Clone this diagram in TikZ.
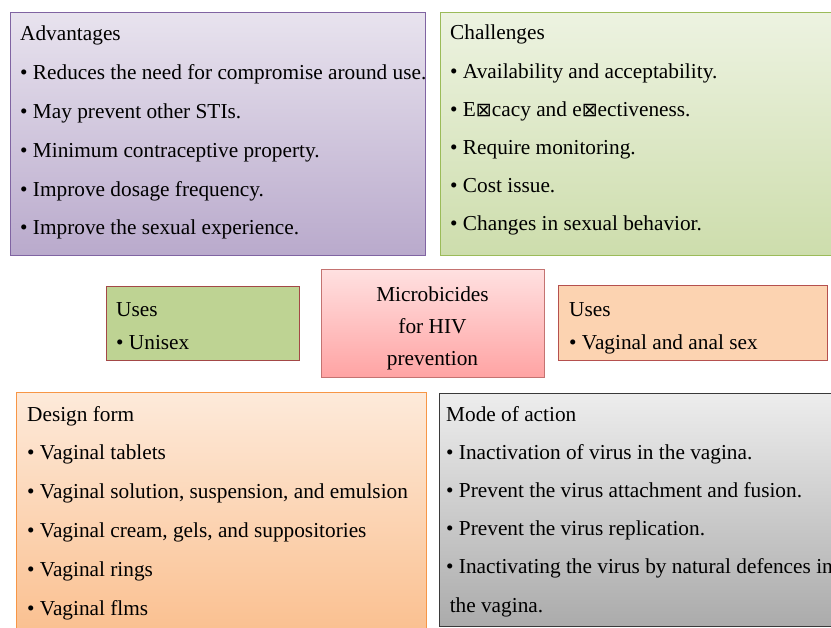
\documentclass[tikz,border=0pt]{standalone}
\usepackage{fontspec}
\setmainfont{Liberation Serif}
\newfontfamily\symfont{DejaVu Sans}
\usepackage{tikz}
\usetikzlibrary{positioning}
\definecolor{purpleline}{HTML}{8064A2}
\definecolor{greenline}{HTML}{9BBB59}
\definecolor{redline}{HTML}{B5504E}
\definecolor{orangeline}{HTML}{F79646}
\definecolor{grayline}{HTML}{3A3A3A}
\tikzset{x=1pt, y=1pt}
\tikzstyle{panel} = [rectangle, anchor=north west, inner sep=0, line width=1.2pt]
\tikzstyle{txt} = [draw=none, anchor=base west, inner sep=0, align=left, font=\fontsize{21.3}{38.8}\selectfont]
\newcommand{\nogl}{{\symfont\fontsize{19}{19}\selectfont\raisebox{0.3pt}{⊠}}}

\begin{document}
\begin{tikzpicture}
\useasboundingbox (0,0) rectangle (831,-628);
\clip (0,0) rectangle (831,-628);
% top row
\node [panel, draw=purpleline, top color=purpleline!18, bottom color=purpleline!55, minimum width=415, minimum height=243] (adv) at (10,-12) {};
\node [panel, draw=greenline, top color=greenline!18, bottom color=greenline!50, minimum width=400, minimum height=243] (chal) at (440,-12) {};
% middle row
\node [panel, draw=redline!90!black, fill=greenline!65, minimum width=193, minimum height=74] (usesL) at (106,-286) {};
\node [panel, draw=redline!80, top color=red!12, bottom color=red!36, minimum width=223, minimum height=108] (mic) at (321,-269) {};
\node [panel, draw=redline, fill=orangeline!42, minimum width=269, minimum height=75] (usesR) at (558,-285) {};
% bottom row
\node [panel, draw=orangeline, top color=orangeline!20, bottom color=orangeline!60, minimum width=410, minimum height=240] (des) at (16,-392) {};
\node [panel, draw=grayline, top color=black!7, bottom color=black!33, minimum width=400, minimum height=233] (mode) at (439,-393) {};

% texts (base = last line)
\node [txt] (advtxt) at (20,-235) {Advantages\\
  • Reduces the need for compromise around use.\\
  • May prevent other STIs.\\
  • Minimum contraceptive property.\\
  • Improve dosage frequency.\\
  • Improve the sexual experience.};
\node [txt, font=\fontsize{21.3}{38.2}\selectfont] (chaltxt) at (450,-231) {Challenges\\
  • Availability and acceptability.\\
  • E\nogl cacy and e\nogl ectiveness.\\
  • Require monitoring.\\
  • Cost issue.\\
  • Changes in sexual behavior.};
\node [txt, font=\fontsize{21.3}{33}\selectfont] (usesLtxt) at (116,-350) {Uses\\• Unisex};
\node [txt, anchor=base, align=center, font=\fontsize{21.3}{32}\selectfont] (mictxt) at (432.5,-366) {Microbicides\\for HIV\\prevention};
\node [txt, font=\fontsize{21.3}{33}\selectfont] (usesRtxt) at (569,-350) {Uses\\• Vaginal and anal sex};
\node [txt] (destxt) at (27,-615) {Design form\\
  • Vaginal tablets\\
  • Vaginal solution, suspension, and emulsion\\
  • Vaginal cream, gels, and suppositories\\
  • Vaginal rings\\
  • Vaginal flms};
\node [txt, font=\fontsize{21.3}{38.2}\selectfont] (modetxt) at (446,-612) {Mode of action\\
  • Inactivation of virus in the vagina.\\
  • Prevent the virus attachment and fusion.\\
  • Prevent the virus replication.\\
  • Inactivating the virus by natural defences in\\
  \,the vagina.};
\end{tikzpicture}
\end{document}
